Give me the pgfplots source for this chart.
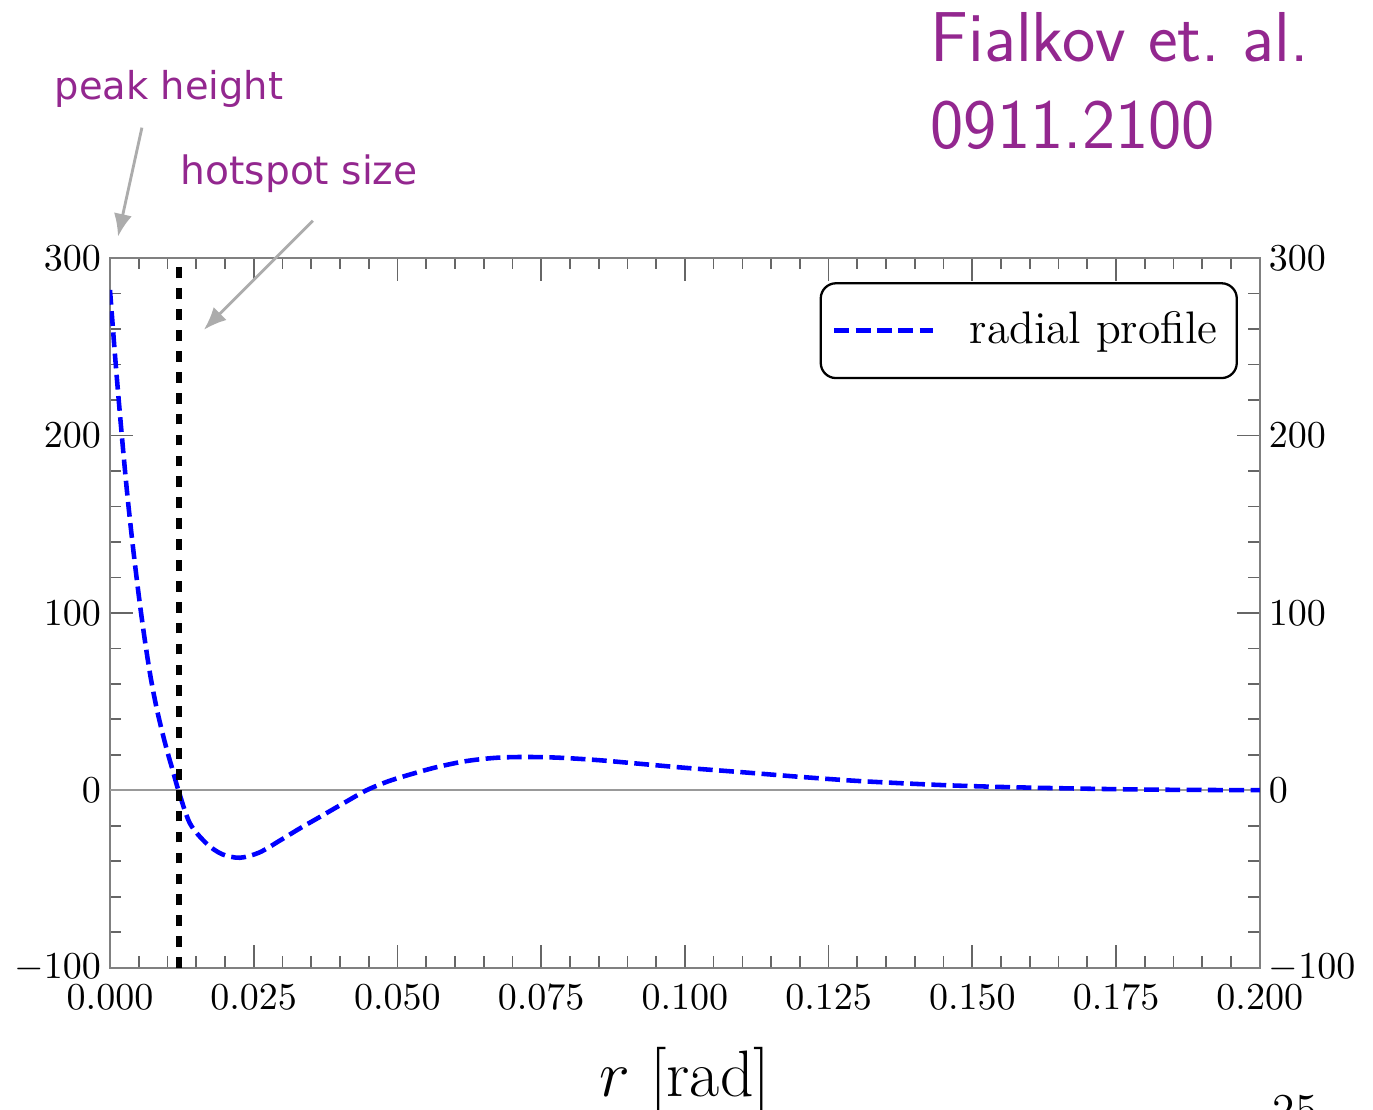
\documentclass[border=0pt]{standalone}
\usepackage{fontspec}
\usepackage{pgfplots}
\usepackage{pgfplotstable}
\usetikzlibrary{arrows.meta}
\pgfplotsset{compat=1.18}
\newfontfamily\notefont{DejaVu Sans}
\definecolor{slidepurple}{RGB}{147,39,143}
\definecolor{arrowgray}{RGB}{172,172,172}

% radial temperature profile of a hotspot
\pgfplotstableread{
r       y
0.0000  282
0.0010  240
0.0020  202
0.0030  167
0.0040  137
0.0050  110
0.0060  86
0.0070  65
0.0080  48
0.0090  34
0.0100  21.5
0.0110  10.3
0.0119  0
0.0139  -18.6
0.0168  -30
0.0195  -36
0.0226  -38
0.0260  -35
0.0296  -28.2
0.0330  -21.5
0.0365  -15
0.0405  -7.5
0.0446  0
0.0485  5.2
0.0527  9.4
0.0570  13.2
0.0620  16.5
0.0670  18.3
0.0720  18.8
0.0780  18.4
0.0850  17
0.0920  15
0.1000  12.7
0.1100  10.2
0.1200  7.6
0.1290  5.5
0.1370  4.1
0.1460  2.8
0.1550  1.9
0.1635  1.3
0.1720  0.8
0.1810  0.4
0.1900  0.2
0.2000  0.1
}\profile

\begin{document}
\begin{tikzpicture}[x=1pt,y=1pt]
\useasboundingbox (-28.95,-37.4) rectangle (332.4,254.7);

\pgfplotsset{
  frame/.style={
    at={(0,0)}, anchor=south west,
    scale only axis, width=302.6pt, height=186.8pt,
    xmin=0, xmax=0.2, ymin=-100, ymax=300,
    axis line style={black!50, line width=0.5pt},
    every tick/.style={black!60, line width=0.45pt},
    major tick length=6pt, minor tick length=3pt,
    ytick={-100,0,100,200,300},
    tick label style={font=\fontsize{10.4}{12}\selectfont},
    yticklabel style={inner xsep=2.2pt},
    xticklabel style={yshift=-1pt},
  }
}

\begin{axis}[frame,
  xtick={0,0.025,...,0.2},
  minor x tick num=4, minor y tick num=4,
  xticklabel style={/pgf/number format/.cd, fixed, fixed zerofill, precision=3},
  scaled x ticks=false,
  xtick pos=both, xticklabel pos=bottom,
  ytick pos=both, yticklabel pos=left,
  xlabel={$r$ [rad]},
  xlabel style={font=\LARGE, anchor=base, at={(axis description cs:0.5,-0.182)}},
  legend style={at={(rel axis cs:0.981,0.966)}, anchor=north east,
    draw=black, line width=0.6pt, rounded corners=4pt, font=\large,
    inner xsep=3pt, inner ysep=5.5pt,
    /tikz/every odd column/.append style={column sep=7pt}},
  legend image code/.code={\draw[#1] (0pt,0pt) -- (26pt,0pt);},
  legend cell align=left,
]
\addplot[black!40, line width=0.45pt, forget plot] coordinates {(0,0) (0.2,0)};
\addplot[blue, line width=1.2pt, dash pattern=on 3.9pt off 1.7pt, smooth] table[x=r, y=y] {\profile};
\addlegendentry{radial profile}
\addplot[black, line width=1.4pt, dash pattern=on 2.8pt off 2.7pt, forget plot] coordinates {(0.012,-100) (0.012,300)};
\end{axis}

% tick labels on the right-hand side
\begin{axis}[frame,
  xtick=\empty, ytick style={draw=none}, axis line style={draw=none},
  yticklabel pos=right,
]
\end{axis}

% slide annotations
\node[anchor=base west, inner sep=0, text=slidepurple, font=\sffamily\fontsize{18.6}{22.9}\selectfont]
  at (215.8,238.6) {Fialkov et.\ al.};
\node[anchor=base west, inner sep=0, text=slidepurple, font=\sffamily\fontsize{18.6}{22.9}\selectfont]
  at (215.8,215.5) {0911.2100};
\node[anchor=base west, inner sep=0, text=slidepurple, font=\notefont\fontsize{10.1}{12}\selectfont]
  at (-14.7,228.4) {peak height};
\node[anchor=base west, inner sep=0, text=slidepurple, font=\notefont\fontsize{10.3}{12}\selectfont]
  at (18.4,206.05) {hotspot size};
\draw[arrowgray, line width=0.75pt, -{Latex[length=6pt,width=4.8pt]}] (8.4,221.1) -- (2.1,192.4);
\draw[arrowgray, line width=0.75pt, -{Latex[length=6pt,width=4.8pt]}] (53.4,196.6) -- (24.7,167.9);
\node[anchor=base west, inner sep=0, font=\large] at (305.8,-41.6) {25};
\end{tikzpicture}
\end{document}
